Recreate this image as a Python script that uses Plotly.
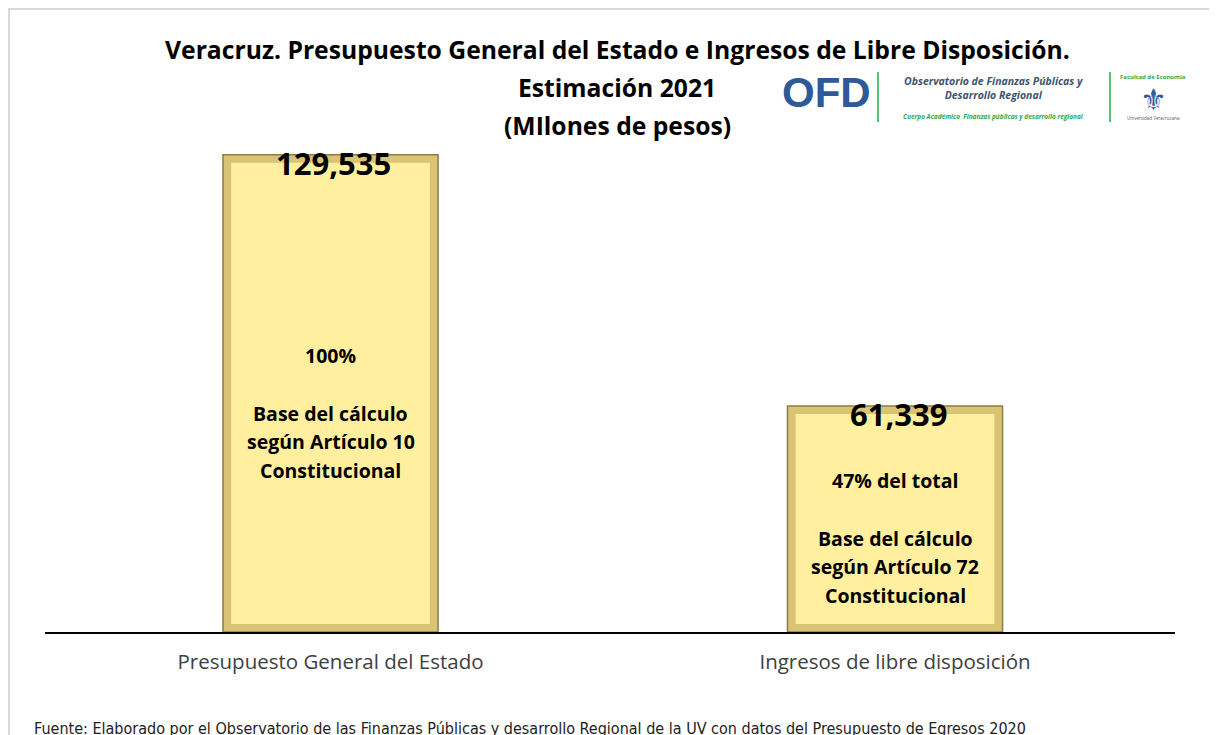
import plotly.graph_objects as go

# data
categories = ["Presupuesto General del Estado", "Ingresos de libre disposición"]
values = [129535, 61339]
value_labels = ["129,535", "61,339"]
notes = [
    ["100%", "Base del cálculo", "según Artículo 10", "Constitucional"],
    ["47% del total", "Base del cálculo", "según Artículo 72", "Constitucional"],
]
title_lines = [
    "Veracruz. Presupuesto General del Estado e Ingresos de Libre Disposición.",
    "Estimación 2021",
    "(MIlones de pesos)",
]
source = ("Fuente: Elaborado por el Observatorio de las Finanzas Públicas y desarrollo "
          "Regional de la UV con datos del Presupuesto de Egresos 2020")

x_pos = list(range(len(categories)))
bevel = 2200  # inner face inset, in value units

# page offset (body margin) and plot box, in screen pixels
OFF = 8
PL, PR, PT, PB = 45, 1175, 153, 632


def px(x):
    return (x - PL) / (PR - PL)


def py(y):
    return (PB - y) / (PB - PT)


fig = go.Figure()

# outer (edge) of the bevelled bars
fig.add_trace(go.Bar(
    x=x_pos, y=values, width=0.381,
    marker=dict(color="#D9C476", line=dict(color="#8C7C44", width=1.5)),
    hoverinfo="skip", showlegend=False
))
# inner face
fig.add_trace(go.Bar(
    x=x_pos, y=[v - 2 * bevel for v in values], base=bevel, width=0.352,
    marker=dict(color="#FFEF9E", line=dict(width=0)),
    hovertemplate="%{customdata}<extra></extra>", customdata=value_labels,
    showlegend=False
))

bold_font = "'Open Sans', sans-serif"

for i, v in enumerate(values):
    fig.add_annotation(
        x=x_pos[i], y=v, xref="x", yref="y", text=f"<b>{value_labels[i]}</b>",
        showarrow=False, yanchor="middle", yshift=-8, xshift=3,
        font=dict(family=bold_font, size=31, color="black")
    )
    # note lines, offsets in px from the bar's middle
    for line, dy in zip(notes[i], [-38, 20, 48, 77]):
        fig.add_annotation(
            x=x_pos[i], y=v / 2, xref="x", yref="y", text=f"<b>{line}</b>",
            showarrow=False, yanchor="middle", yshift=-dy,
            font=dict(family=bold_font, size=19.5, color="black")
        )

# title, one annotation per line for the wide spacing
for line, yy in zip(title_lines, [50, 88, 125]):
    fig.add_annotation(
        x=px(617), y=py(yy), xref="paper", yref="paper",
        text=f"<b>{line}</b>", showarrow=False, xanchor="center", yanchor="middle",
        font=dict(family=bold_font, size=24.7, color="black")
    )

# logo block, drawn as text
logo = dict(xref="paper", yref="paper", showarrow=False, xanchor="center", yanchor="middle")
fig.add_annotation(x=px(826), y=py(93), text="<b>OFD</b>",
                   font=dict(family="'Liberation Sans', Arial, sans-serif", size=42, color="#2F5A9A"),
                   **logo)
fig.add_annotation(x=px(993), y=py(88),
                   text="<b><i>Observatorio de Finanzas Públicas y<br>Desarrollo Regional</i></b>",
                   font=dict(family=bold_font, size=10.5, color="#3B5570"), **logo)
fig.add_annotation(x=px(993), y=py(117),
                   text="<b><i>Cuerpo Académico  Finanzas públicas y desarrollo regional</i></b>",
                   font=dict(family=bold_font, size=6.5, color="#2EAA4E"), **logo)
fig.add_annotation(x=px(1153), y=py(77), text="<b>Facultad de Economía</b>",
                   font=dict(family=bold_font, size=6, color="#2EAA4E"), **logo)
fig.add_annotation(x=px(1153), y=py(99), text="⚜",
                   font=dict(family="DejaVu Sans, sans-serif", size=30, color="#2F5A9A"), **logo)
fig.add_annotation(x=px(1153), y=py(118), text="Universidad Veracruzana",
                   font=dict(family=bold_font, size=4.5, color="#555555"), **logo)
for xl in [878, 1110]:
    fig.add_shape(type="line", xref="paper", yref="paper",
                  x0=px(xl), x1=px(xl), y0=py(72), y1=py(122),
                  line=dict(color="#5CC27A", width=2))

# source note
fig.add_annotation(x=px(32), y=py(728), xref="paper", yref="paper",
                   text=source, showarrow=False, xanchor="left", yanchor="middle",
                   font=dict(family="'Liberation Sans Narrow', 'DejaVu Sans Condensed', sans-serif",
                             size=16, color="#222222"))

# chart-area frame (light grey)
fig.add_shape(type="rect", xref="paper", yref="paper",
              x0=px(9), x1=px(1300), y0=py(800), y1=py(9),
              line=dict(color="#D9D9D9", width=2))

fig.update_xaxes(
    range=[-0.5058, 1.496], tickvals=x_pos, ticktext=categories,
    showline=True, linecolor="black", linewidth=2, showgrid=False, zeroline=False,
    ticks="", ticklabelstandoff=10,
    tickfont=dict(family="'Open Sans', sans-serif", size=20.5, color="#404040"),
    fixedrange=True
)
fig.update_yaxes(range=[0, 130000], visible=False, fixedrange=True)

fig.update_layout(
    width=1217 - OFF, height=735 - OFF,
    barmode="overlay",
    plot_bgcolor="white", paper_bgcolor="white",
    margin=dict(l=PL - OFF, r=1217 - PR, t=PT - OFF, b=735 - PB),
)

fig.write_html("out.html")
